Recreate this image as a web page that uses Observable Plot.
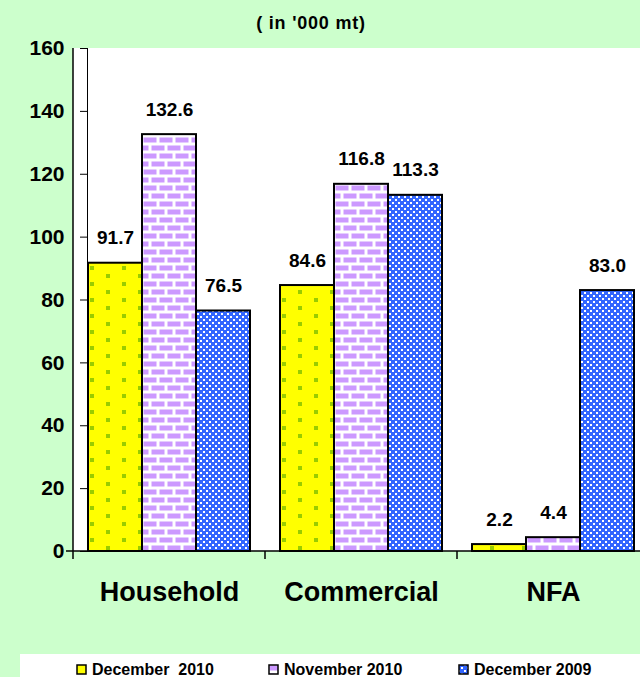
<!DOCTYPE html>
<html>
<head>
<meta charset="utf-8">
<script src="https://cdn.jsdelivr.net/npm/d3@7"></script>
<script src="https://cdn.jsdelivr.net/npm/@observablehq/plot@0.6"></script>
<style>
  html, body { margin: 0; padding: 0; background: #ccffcc; overflow: hidden; width: 640px; height: 677px; }
  body { position: relative; font-family: "Liberation Sans", Arial, sans-serif; }
  #title { position: absolute; left: 0; top: 13px; width: 622px; text-align: center; font-weight: bold; font-size: 18px; line-height: 20px; letter-spacing: 0.8px; color: #000; }
  #chart { position: absolute; left: 0; top: 40px; width: 649px; }
  #legend { position: absolute; left: 20px; top: 654px; width: 620px; height: 23px; background: #fff; overflow: hidden; }
  .item { position: absolute; top: 0; height: 23px; }
  .item svg { position: absolute; left: 0; top: 10px; }
  .item span { position: absolute; left: 16px; top: 9px; white-space: pre; font-weight: bold; font-size: 16px; line-height: 13px; color: #000; }
</style>
</head>
<body>
<div id="title">( in '000 mt)</div>
<div id="chart"></div>
<div id="legend"></div>
<script>
const categories = ["Household", "Commercial", "NFA"];
const series = ["December  2010", "November 2010", "December 2009"];
const dec2010 = [91.7, 84.6, 2.2];
const nov2010 = [132.6, 116.8, 4.4];
const dec2009 = [76.5, 113.3, 83.0];
const yTicks = [0, 20, 40, 60, 80, 100, 120, 140, 160];
const patterns = ["url(#p-yellow)", "url(#p-brick)", "url(#p-check)"];

const seriesValues = [dec2010, nov2010, dec2009];
const data = categories.flatMap((c, i) =>
  series.map((s, j) => ({category: c, series: s, value: seriesValues[j][i]}))
);

const chart = Plot.plot({
  width: 649,
  height: 605,
  marginTop: 8,
  marginBottom: 94,
  marginLeft: 73,
  marginRight: 0,
  style: {fontFamily: "'Liberation Sans', Arial, sans-serif", fontSize: "21px", fontWeight: "bold", background: "transparent", color: "#000", overflow: "visible", maxWidth: "none"},
  fx: {domain: categories, paddingInner: 0.146, paddingOuter: 0.073, axis: null, label: null},
  x: {domain: series, padding: 0, axis: null},
  y: {domain: [0, 160], ticks: yTicks, tickSize: 7, tickPadding: 16, line: true, label: null, tickFormat: d => d},
  color: {domain: series, range: patterns},
  marks: [
    Plot.barY(data, {fx: "category", x: "series", y: "value", fill: "series", stroke: "#000", strokeWidth: 2}),
    Plot.text(data, {fx: "category", x: "series", y: "value", text: d => d.value.toFixed(1), dy: -25, fontSize: 19, fontWeight: "bold", fill: "#000"}),
    Plot.text(categories, {fx: d => d, text: d => d, frameAnchor: "bottom", lineAnchor: "middle", dy: 41, fontSize: 27, fontWeight: "bold", fill: "#000"})
  ]
});

const svg = d3.select(chart);
const defs = svg.insert("defs", ":first-child");
// yellow with green dots
const py = defs.append("pattern").attr("id", "p-yellow").attr("patternUnits", "userSpaceOnUse").attr("width", 32).attr("height", 16);
py.append("rect").attr("width", 32).attr("height", 16).attr("fill", "#ffff00");
py.append("rect").attr("x", 12).attr("y", 2).attr("width", 4).attr("height", 4).attr("fill", "#99cc00");
py.append("rect").attr("x", 28).attr("y", 10).attr("width", 4).attr("height", 4).attr("fill", "#99cc00");
// purple bricks
const pb = defs.append("pattern").attr("id", "p-brick").attr("patternUnits", "userSpaceOnUse").attr("width", 16).attr("height", 16);
pb.append("rect").attr("width", 16).attr("height", 16).attr("fill", "#ffffff");
pb.append("rect").attr("x", 1.5).attr("y", 1.5).attr("width", 13).attr("height", 5).attr("fill", "#cc99ff");
pb.append("rect").attr("x", -6.5).attr("y", 9.5).attr("width", 13).attr("height", 5).attr("fill", "#cc99ff");
pb.append("rect").attr("x", 9.5).attr("y", 9.5).attr("width", 13).attr("height", 5).attr("fill", "#cc99ff");
// blue checker
const pc = defs.append("pattern").attr("id", "p-check").attr("patternUnits", "userSpaceOnUse").attr("width", 6).attr("height", 6);
pc.append("rect").attr("width", 6).attr("height", 6).attr("fill", "#3366ff");
pc.append("rect").attr("x", 0).attr("y", 0).attr("width", 2).attr("height", 2).attr("fill", "#ffffff");
pc.append("rect").attr("x", 3).attr("y", 3).attr("width", 2).attr("height", 2).attr("fill", "#ffffff");

const y = chart.scale("y");
const fx = chart.scale("fx");
const left = 73, right = 649;
const y0 = y.apply(0), yTop = y.apply(160);
// white plot background
svg.insert("rect", "g").attr("x", left).attr("y", yTop).attr("width", right - left).attr("height", y0 - yTop).attr("fill", "#ffffff");
// baseline, axis line and category separators
const deco = svg.append("g").attr("stroke", "#000").attr("stroke-width", 1.5);
deco.append("line").attr("x1", left).attr("x2", left).attr("y1", yTop).attr("y2", y0);
deco.append("line").attr("x1", left - 7).attr("x2", right).attr("y1", y0).attr("y2", y0);
categories.forEach(c => {
  const bx = fx.apply(c) - (fx.step - fx.bandwidth) / 2;
  deco.append("line").attr("x1", bx).attr("x2", bx).attr("y1", y0).attr("y2", y0 + 8);
});

document.getElementById("chart").appendChild(chart);

// legend
const color = chart.scale("color");
const legend = d3.select("#legend");
const offsets = [56, 248, 438];
series.forEach((s, i) => {
  const item = legend.append("div").attr("class", "item").style("left", offsets[i] + "px");
  const sw = item.append("svg").attr("width", 11).attr("height", 11);
  sw.append("rect").attr("x", 1).attr("y", 1).attr("width", 9).attr("height", 9)
    .attr("fill", color.apply(s)).attr("stroke", "#000").attr("stroke-width", 1.5);
  item.append("span").text(s);
});
</script>
</body>
</html>
